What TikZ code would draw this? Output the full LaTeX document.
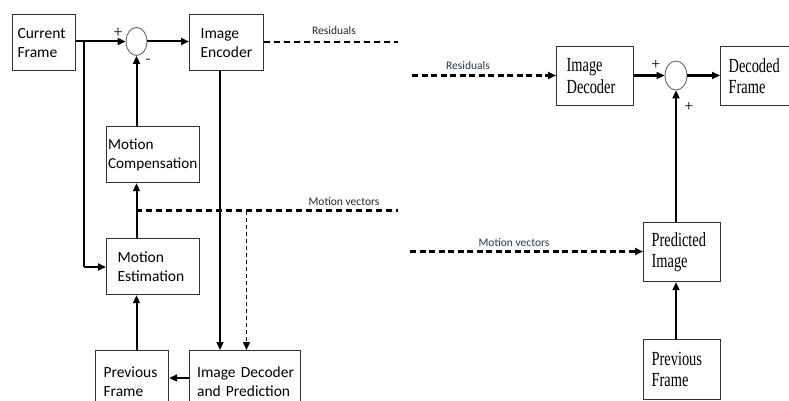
\documentclass[tikz,border=0pt]{standalone}
\usepackage{fontspec}
\setmainfont{Carlito}
\newfontfamily\tnr[FakeStretch=0.72]{Liberation Serif}
\newfontfamily\tnrplain{Liberation Serif}
\usetikzlibrary{arrows.meta,shapes.geometric}
\definecolor{lblue}{HTML}{243A55}
\tikzset{
  lbox/.style={draw=black!80, line width=1.2pt, rectangle, align=left, anchor=north west,
    inner ysep=0pt, font=\fontsize{15.5}{19}\selectfont},
  rbox/.style={draw=black!80, line width=1.2pt, rectangle, align=left, anchor=north west,
    inner ysep=0pt, font=\tnr\fontsize{20}{21.5}\selectfont},
  sumnode/.style={draw=black!60, line width=0.9pt, ellipse, inner sep=0pt},
  flow/.style={line width=2pt, -{Triangle[length=8pt,width=7pt]}},
  thinflow/.style={line width=1.4pt, -{Triangle[length=8pt,width=7pt]}},
  plain/.style={line width=1.3pt},
  dashline/.style={line width=2.2pt, dash pattern=on 6pt off 4pt},
  dasharrow/.style={line width=2.4pt, dash pattern=on 6pt off 3.5pt, -{Triangle[length=8pt,width=7pt]}},
  thindash/.style={line width=1.3pt, dash pattern=on 4pt off 3pt, -{Triangle[length=8pt,width=7pt]}},
  sig/.style={font=\fontsize{17}{17}\selectfont, inner sep=0pt, text=black!75},
  rsig/.style={font=\tnrplain\fontsize{16}{16}\selectfont, inner sep=0pt},
  tag/.style={font=\fontsize{11.5}{12}\selectfont, inner sep=0pt, text=black!85},
  rtag/.style={font=\fontsize{11.5}{12}\selectfont, inner sep=0pt, text=lblue},
}
\begin{document}
\begin{tikzpicture}[x=1pt,y=-1pt]
\useasboundingbox (0,0) rectangle (789,401);
\clip (0,0) rectangle (789,401);
\fill[white] (0,0) rectangle (789,401);

% ---------------- encoder ----------------
\node[lbox, text width=53pt, inner xsep=5pt, minimum height=56pt] (cur) at (12,14) {Current\\Frame};
\node[sumnode, minimum width=21pt, minimum height=28pt] (s1) at (136.5,41.5) {};
\node[lbox, text width=52pt, inner xsep=11pt, minimum height=56pt] (enc) at (189,14) {Image\\Encoder};
\node[lbox, text width=90pt, inner xsep=1.5pt, minimum height=56pt, font=\fontsize{15.2}{19}\selectfont] (mc) at (106,126) {Motion\\\mbox{Compensation}};
\node[lbox, text width=71pt, inner xsep=11pt, minimum height=56pt] (me) at (106,238) {Motion\\Estimation};
\node[lbox, text width=57pt, inner xsep=8pt, minimum height=62pt] (pf1) at (95,350) {Previous\\Frame};
\node[lbox, text width=96pt, inner xsep=7.5pt, minimum height=62pt] (dec1) at (189,350) {\mbox{Image Decoder}\\\mbox{and Prediction}};

\node[sig] (p1) at (118,32.5) {+};
\node[sig] (m1) at (148,62) {-};

\coordinate (split) at (84,42);
\coordinate (turn) at (84,267);
\coordinate (down) at (220,0);
\coordinate (back) at (0,378);
\coordinate (res1) at (398,42);
\coordinate (mvstart) at (136,210.5);
\coordinate (mvend) at (398,210.5);
\coordinate (mvtap) at (246.5,210.5);

\draw[flow] (cur.east |- s1.west) -- (s1.west);
\draw[flow] (s1.east) -- (enc.west |- s1.east);
\draw[dashline] (enc.east |- res1) -- (res1);
\node[tag] (restag1) at (334,31) {Residuals};

\draw[plain] (split) -- (turn);
\draw[flow] (turn) -- (me.west |- turn);
\draw[flow] (mc.north -| s1.south) -- (s1.south);
\draw[flow] (me.north -| s1.south) -- (mc.south -| s1.south);
\draw[flow] (pf1.north -| s1.south) -- (me.south -| s1.south);
\draw[flow] (dec1.west |- back) -- (pf1.east |- back);
\draw[thinflow] (enc.south -| down) -- (dec1.north -| down);

\draw[dashline] (mvstart) -- (mvend);
\node[tag] (mvtag1) at (344,201.5) {Motion vectors};
\draw[thindash] (mvtap) -- (mvtap |- dec1.north);

% ---------------- decoder ----------------
\node[rbox, text width=57pt, inner xsep=10pt, minimum height=59pt] (dec2) at (556,46) {Image\\Decoder};
\node[sumnode, minimum width=22pt, minimum height=29pt] (s2) at (676,75.5) {};
\node[rbox, text width=60pt, inner xsep=8pt, minimum height=59pt] (out) at (720,46) {Decoded\\Frame};
\node[rbox, text width=61pt, inner xsep=8pt, minimum height=59pt] (pred) at (643,222) {Predicted\\Image};
\node[rbox, text width=61pt, inner xsep=8pt, minimum height=60pt] (pf2) at (643,339) {Previous\\Frame};

\node[rsig] (p2) at (656,65) {+};
\node[rsig] (p3) at (689,107) {+};

\coordinate (res2) at (412,75.5);
\coordinate (mv2) at (410,251.5);

\draw[dasharrow] (res2) -- (dec2.west |- res2);
\node[rtag] (restag2) at (468,66) {Residuals};
\draw[flow, line width=2.4pt] (dec2.east |- s2.west) -- (s2.west);
\draw[flow, line width=2.4pt] (s2.east) -- (out.west |- s2.east);
\draw[flow, line width=2.4pt] (pred.north -| s2.south) -- (s2.south);
\draw[flow, line width=2.4pt] (pf2.north -| s2.south) -- (pred.south -| s2.south);
\draw[dasharrow] (mv2) -- (pred.west |- mv2);
\node[rtag] (mvtag2) at (514,242.5) {Motion vectors};
\end{tikzpicture}
\end{document}
